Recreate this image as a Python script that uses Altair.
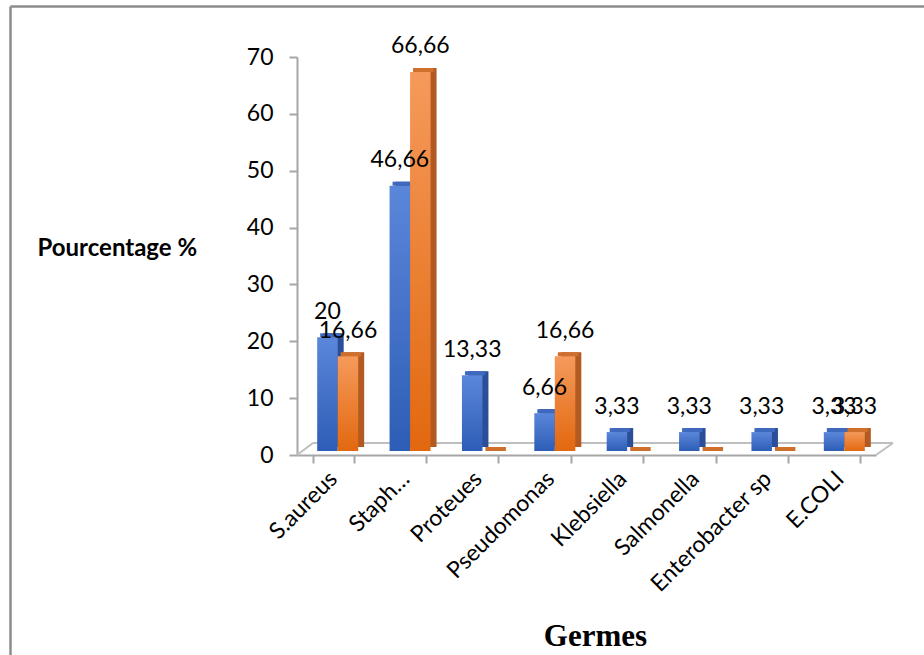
import altair as alt
import pandas as pd

# Germes isolés et pourcentages des deux séries
germes = ["S.aureus", "Staph…", "Proteues", "Pseudomonas", "Klebsiella",
          "Salmonella", "Enterobacter sp", "E.COLI"]
serie_1 = [20, 46.66, 13.33, 6.66, 3.33, 3.33, 3.33, 3.33]
serie_2 = [16.66, 66.66, 0, 16.66, 0, 0, 0, 3.33]
series = ["Série 1", "Série 2"]
y_ticks = [0, 10, 20, 30, 40, 50, 60, 70]

rows = []
for s, vals in zip(series, [serie_1, serie_2]):
    for g, v in zip(germes, vals):
        rows.append({"germe": g, "serie": s, "valeur": v,
                     "etiquette": f"{v:g}".replace(".", ",")})
df = pd.DataFrame(rows)

W, H = 579, 398
BAR_W = 20.5
AXIS_GREY = "#a6a6a6"
FLOOR_GREY = "#bfbfbf"

# couleurs : face avant (dégradé), face latérale, dessus ; décalage horizontal du centre
palette = {
    "Série 1": {"front": ("#5b87da", "#2d5db6"), "side": "#2b4e98", "top": "#3f69bf",
                "shift": -BAR_W / 2 + 4.5},
    "Série 2": {"front": ("#f59a5b", "#e2680f"), "side": "#b35a22", "top": "#cf6f2c",
                "shift": BAR_W / 2 + 4.5},
}


def gradient(c_top, c_bottom):
    return {"gradient": "linear", "x1": 0, "x2": 0, "y1": 0, "y2": 1,
            "stops": [{"offset": 0, "color": c_top}, {"offset": 1, "color": c_bottom}]}


x_enc = alt.X(
    "germe:N", sort=germes,
    scale=alt.Scale(paddingInner=0.4337),
    axis=alt.Axis(
        title="Germes", titleFont="Liberation Serif", titleFontSize=31,
        titleFontWeight="bold", titleColor="black", titleX=298, titleY=190,
        titleBaseline="alphabetic", titleAlign="center",
        labelAngle=-45, labelAlign="right", labelBaseline="middle",
        labelFont="Lato", labelFontSize=23, labelColor="black",
        labelPadding=12, labelLimit=400, labelOverlap=False,
        tickBand="extent", tickSize=8, tickColor=AXIS_GREY, tickWidth=2,
        domainColor=AXIS_GREY, domainWidth=2,
    ),
)
y_enc = alt.Y(
    "valeur:Q",
    scale=alt.Scale(domain=[0, 70], nice=False, zero=True),
    axis=alt.Axis(
        values=y_ticks, grid=False,
        title="Pourcentage %", titleAngle=0, titleAlign="left",
        titleBaseline="alphabetic", titleX=-260, titleY=198,
        titleFont="Lato", titleFontSize=24, titleFontWeight="bold",
        titleColor="black",
        labelFont="Lato", labelFontSize=23, labelColor="black",
        labelPadding=16, tickSize=8, tickColor=AXIS_GREY, tickWidth=2,
        domainColor=AXIS_GREY, domainWidth=2,
    ),
)

base = alt.Chart(df).encode(x=x_enc, y=y_enc)

layers = []

# cadre du graphique et plancher en perspective
deco = alt.Chart(alt.Data(values=[{"k": 0}]))
frame = [
    deco.mark_rule(color="#8c8c8c", strokeWidth=2.5).encode(
        x=alt.value(-286.5), x2=alt.value(700), y=alt.value(-50.5), y2=alt.value(-50.5)),
    deco.mark_rule(color="#8c8c8c", strokeWidth=2.5).encode(
        x=alt.value(-286.5), x2=alt.value(-286.5), y=alt.value(-50.5), y2=alt.value(700)),
    deco.mark_rule(color=FLOOR_GREY, strokeWidth=2).encode(
        x=alt.value(16), x2=alt.value(596), y=alt.value(386), y2=alt.value(386)),
    deco.mark_rule(color=FLOOR_GREY, strokeWidth=2).encode(
        x=alt.value(0), x2=alt.value(16), y=alt.value(398), y2=alt.value(386)),
    deco.mark_rule(color=FLOOR_GREY, strokeWidth=2).encode(
        x=alt.value(579), x2=alt.value(596), y=alt.value(398), y2=alt.value(386)),
]
layers += frame

# barres en pseudo-3D : face latérale, dessus, puis face avant
label_layers = []
for s in series:
    c = palette[s]
    sub = base.transform_filter(alt.datum.serie == s)
    side = sub.mark_bar(color=c["side"], width=BAR_W, xOffset=c["shift"] + 6,
                        yOffset=-8, y2Offset=-8)
    top = sub.mark_bar(color=c["top"], width=BAR_W, xOffset=c["shift"] + 3,
                       yOffset=-8, y2Offset=-4).encode(y2=alt.Y2("valeur:Q"))
    front = sub.mark_bar(color=gradient(*c["front"]), width=BAR_W, xOffset=c["shift"],
                         yOffset=-4, y2Offset=-4)
    layers += [side, top, front]
    # étiquettes de valeur, dessinées au-dessus de toutes les barres
    label_layers.append(sub.transform_filter(alt.datum.valeur > 0).mark_text(
        font="Lato", fontSize=23, color="black", baseline="alphabetic",
        dy=-22.5, dx=c["shift"],
    ).encode(text="etiquette:N"))
layers += label_layers

chart = alt.layer(*layers).properties(
    width=W, height=H,
    autosize=alt.AutoSizeParams(type="none"),
    padding={"left": 297, "top": 57, "right": 48, "bottom": 200},
    background="white",
).configure_view(stroke=None)

chart.save("out.html", embed_options={"renderer": "svg", "actions": False})
